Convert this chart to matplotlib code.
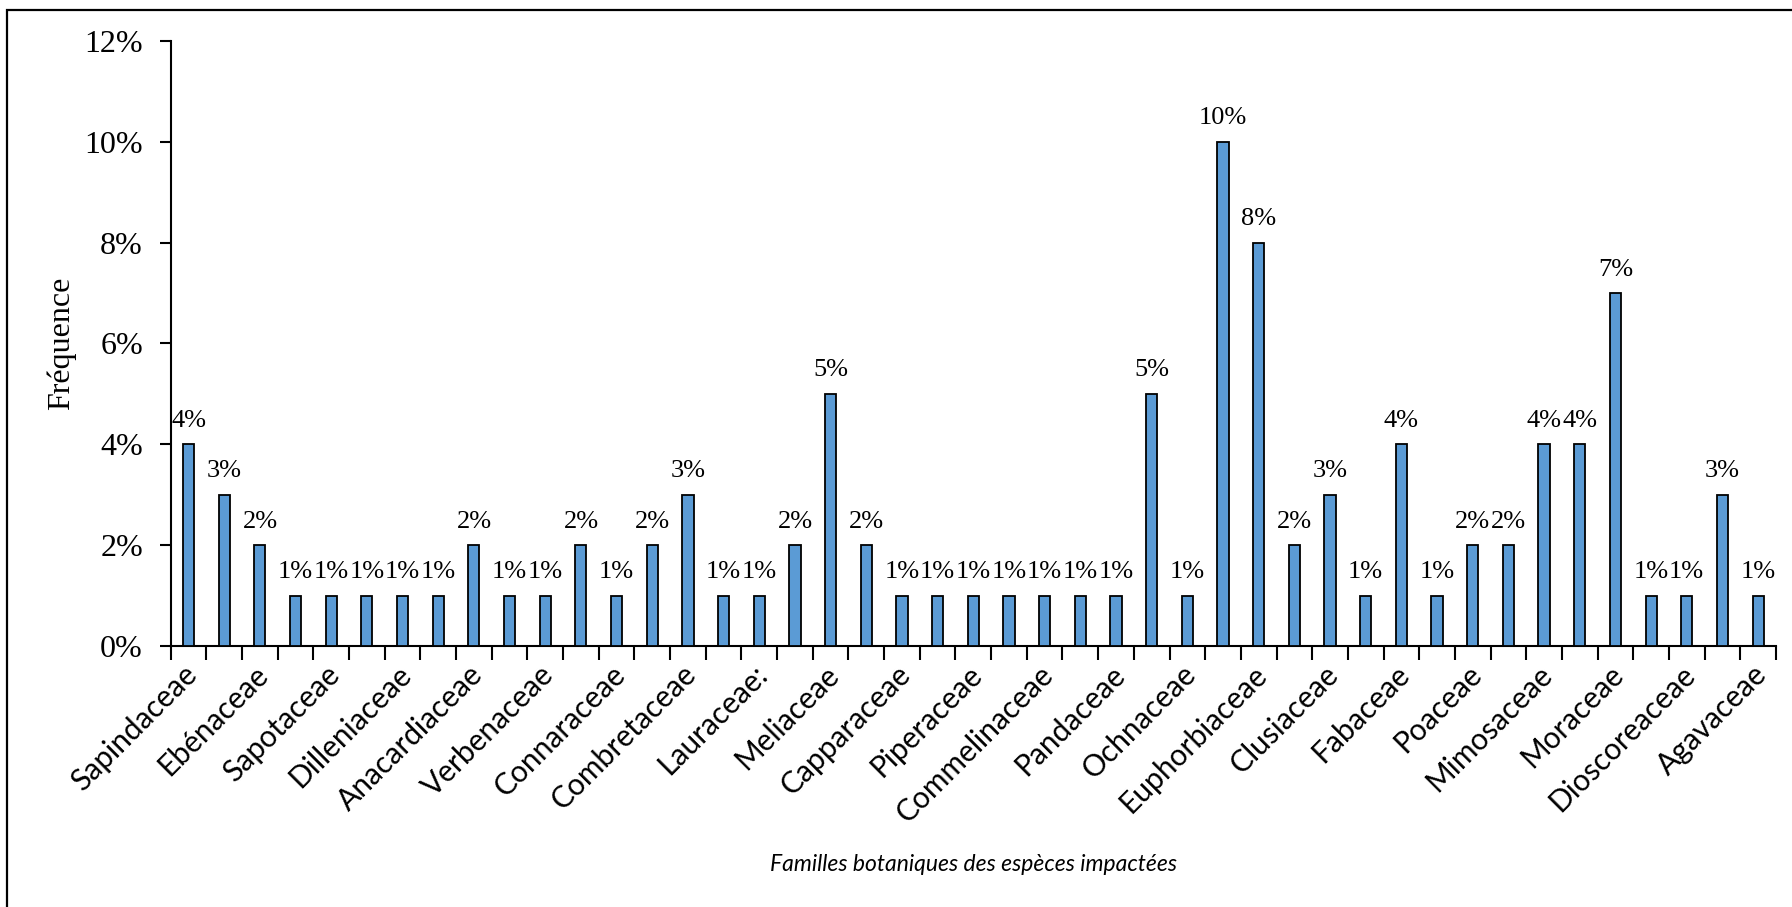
import matplotlib.pyplot as plt
import matplotlib.patches as mpatches
import matplotlib.transforms as mtransforms
import numpy as np

# visible family names (every other bar is labelled in the original)
familles = ['Sapindaceae', 'Ebénaceae', 'Sapotaceae', 'Dilleniaceae', 'Anacardiaceae',
            'Verbenaceae', 'Connaraceae', 'Combretaceae', 'Lauraceae:', 'Meliaceae',
            'Capparaceae', 'Piperaceae', 'Commelinaceae', 'Pandaceae', 'Ochnaceae',
            'Euphorbiaceae', 'Clusiaceae', 'Fabaceae', 'Poaceae', 'Mimosaceae',
            'Moraceae', 'Dioscoreaceae', 'Agavaceae']

# frequency of each bar, in %
frequence = [4, 3, 2, 1, 1, 1, 1, 1, 2, 1, 1, 2, 1, 2, 3, 1, 1, 2, 5, 2, 1, 1, 1,
             1, 1, 1, 1, 5, 1, 10, 8, 2, 3, 1, 4, 1, 2, 2, 4, 4, 7, 1, 1, 3, 1]

serif = 'Liberation Serif'
sans = 'Lato'

fig = plt.figure(figsize=(17.92, 9.07), dpi=100)
ax = fig.add_axes([0.0953, 0.2878, 0.8957, 0.667])

x = np.arange(len(frequence))
ax.bar(x, frequence, width=0.31, color='#5B9BD5', edgecolor='black', linewidth=1.3, zorder=3)

# value labels
for xi, v in zip(x, frequence):
    ax.annotate(f'{v}%', (xi, v), xytext=(0, 9), textcoords='offset points',
                ha='center', va='bottom', fontsize=19, family=serif)

ax.set_xlim(-0.5, len(frequence) - 0.5)
ax.set_ylim(0, 12)

# y axis
ax.set_yticks(np.arange(0, 13, 2))
ax.set_yticklabels([f'{t}%' for t in range(0, 13, 2)], fontsize=23, family=serif)
ax.tick_params(axis='y', direction='out', length=8, width=1.5, pad=12)
ax.set_ylabel('Fréquence', fontsize=23, family=serif, va='center')
ax.yaxis.set_label_coords(-0.068, 0.5)

# x axis: tick marks between categories, labels on every other bar
ax.set_xticks(np.arange(-0.5, len(frequence), 1))
ax.set_xticklabels([])
ax.tick_params(axis='x', which='major', direction='out', length=10, width=1.5)
ax.set_xticks(x[::2], minor=True)
ax.set_xticklabels(familles, minor=True, rotation=45, ha='right',
                   rotation_mode='anchor', fontsize=21.5, family=sans)
ax.tick_params(axis='x', which='minor', length=0, pad=10)
shift = mtransforms.ScaledTranslation(-0.06, 0, fig.dpi_scale_trans)
for lbl in ax.xaxis.get_minorticklabels():
    lbl.set_transform(lbl.get_transform() + shift)

ax.set_xlabel('Familles botaniques des espèces impactées', fontsize=16.5,
              family=sans, style='italic', va='center')
ax.xaxis.set_label_coords(0.5, -0.362)

for s in ['top', 'right']:
    ax.spines[s].set_visible(False)
for s in ['left', 'bottom']:
    ax.spines[s].set_linewidth(1.5)

# outer frame of the figure (cut at right and bottom)
frame = mpatches.Rectangle((6.7 / 1792, -0.1), 1.2, 1.1 - 10 / 907,
                           transform=fig.transFigure, fill=False,
                           edgecolor='black', linewidth=1.6)
fig.patches.append(frame)

fig.savefig('out.png', dpi=100)
